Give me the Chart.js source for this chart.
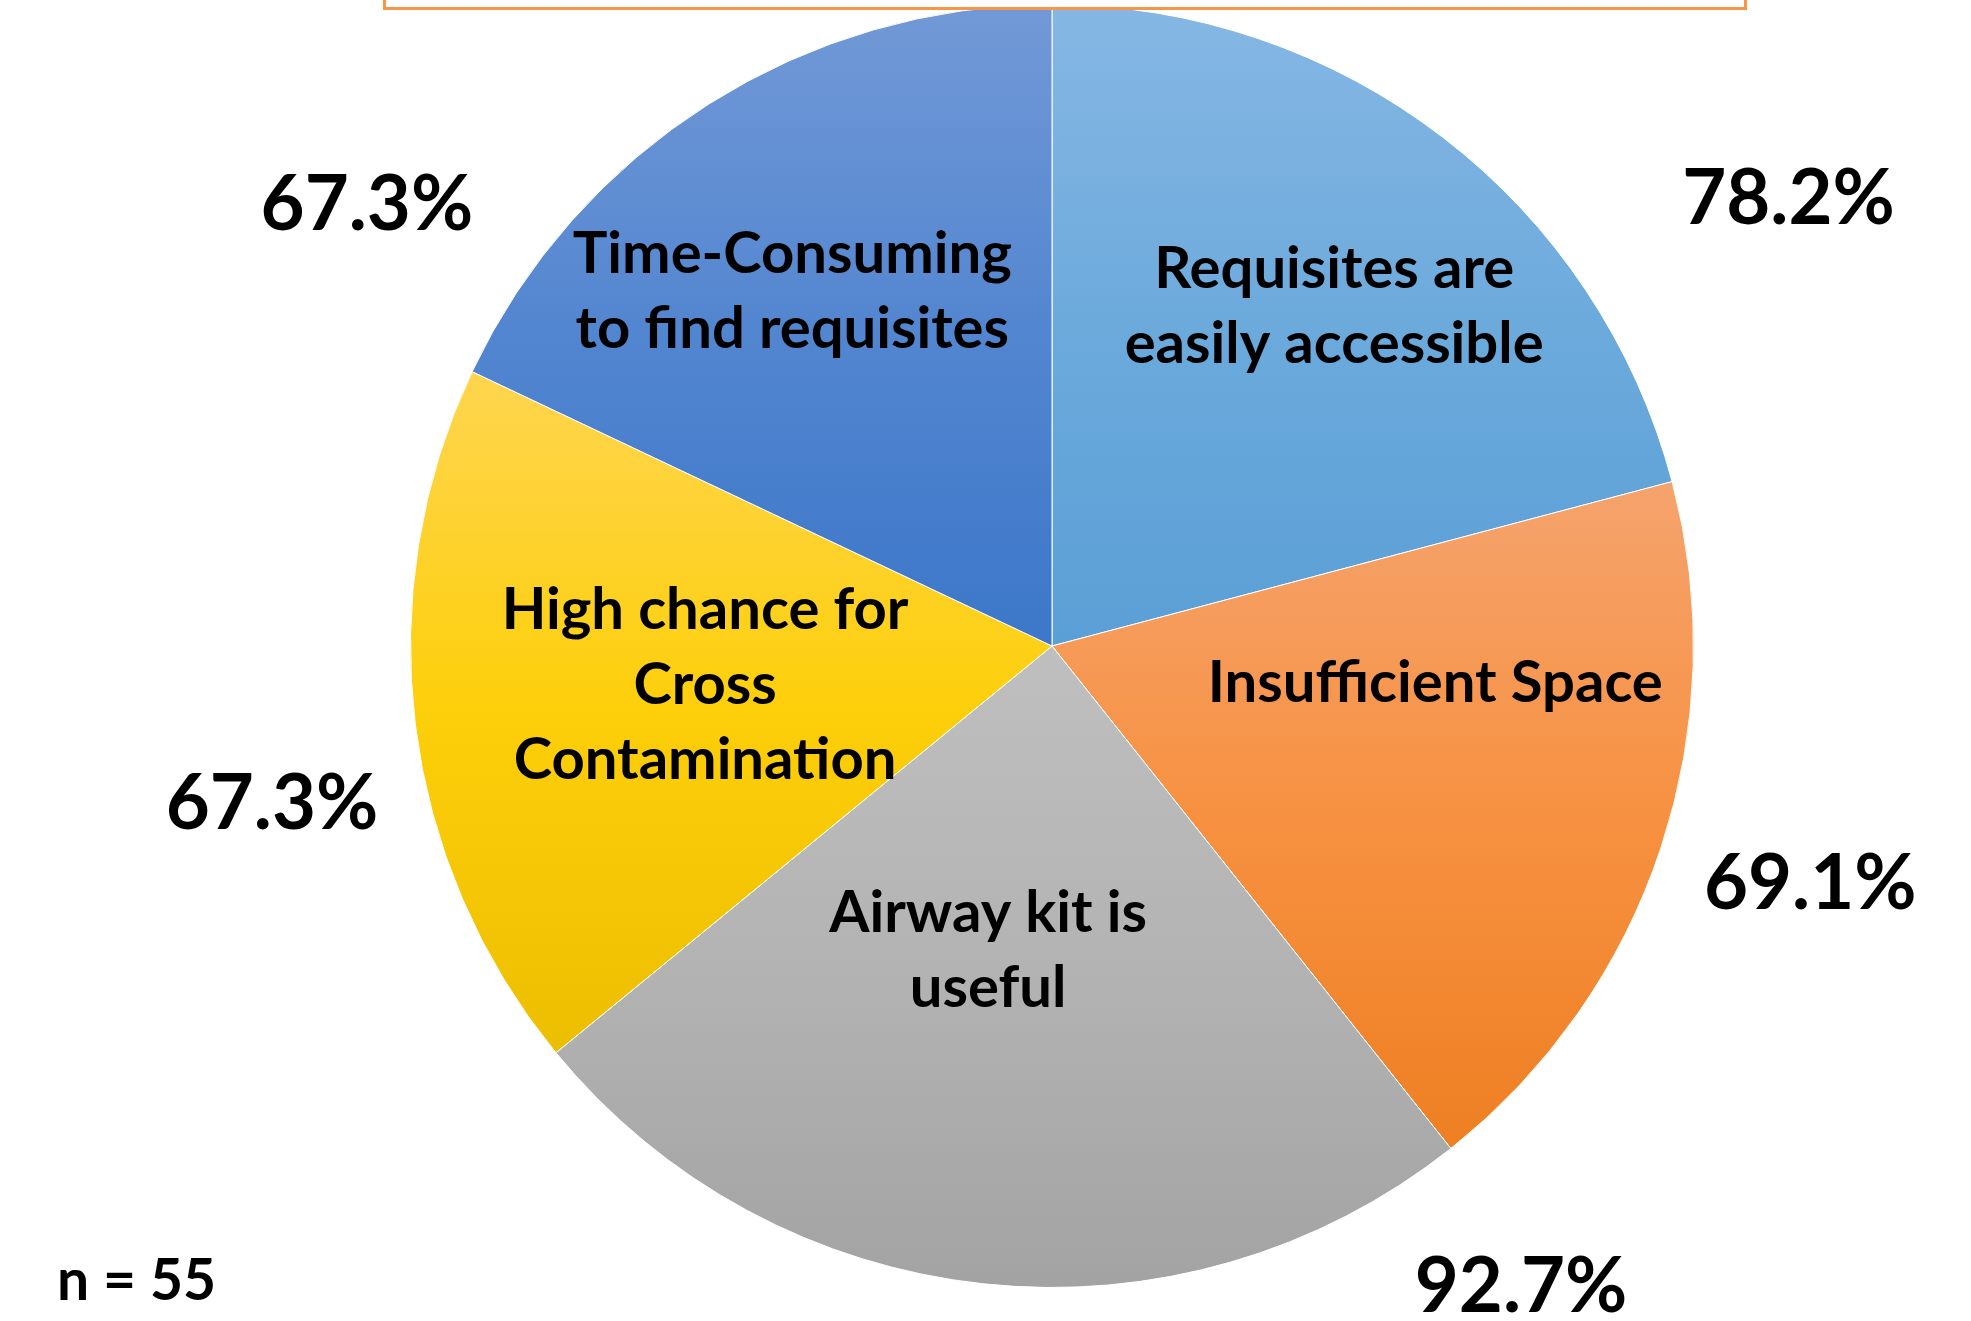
<!DOCTYPE html>
<html>
<head>
<meta charset="utf-8">
<title>Airway kit feedback</title>
<script src="https://cdn.jsdelivr.net/npm/chart.js@4.4.1/dist/chart.umd.min.js"></script>
<style>
  html, body { margin: 0; padding: 0; background: #fff; overflow: hidden; }
  #wrap { position: relative; width: 1971px; height: 1321px; }
  #chart { position: absolute; left: 0; top: 0; }
  /* bottom edge of the title box that sits above the pie */
  #titleBox { position: absolute; left: 383px; top: -60px; width: 1358px; height: 64px;
              border: 3px solid #F79646; background: #fff; }
</style>
</head>
<body>
<div id="wrap">
  <canvas id="chart" width="1971" height="1321"></canvas>
  <div id="titleBox"></div>
</div>
<script>
// data
const categories = [
    'Requisites are easily accessible',
    'Insufficient Space',
    'Airway kit is useful',
    'High chance for Cross Contamination',
    'Time-Consuming to find requisites'
];
const labelLines = [
    ['Requisites are', 'easily accessible'],
    ['Insufficient Space'],
    ['Airway kit is', 'useful'],
    ['High chance for', 'Cross', 'Contamination'],
    ['Time-Consuming', 'to find requisites']
];
const percentages = [78.2, 69.1, 92.7, 67.3, 67.3];
const sampleSize = 55;

// styles
const topColors = ['#86B7E4', '#F5A36D', '#BFBFBF', '#FFD54F', '#7299D7'];
const midColors = ['#6CAADC', '#F79141', '#B3B3B3', '#FDCF0A', '#5386D0'];
const bottomColors = ['#5A9FD6', '#EE7F22', '#A3A3A3', '#ECBE00', '#3C77C9'];

// label placement: angle (deg, clockwise from 12 o'clock) and distance as share of the radius
const nameAngle = [39.6, 95.2, 191.9, 263.8, 323.9];
const nameRadius = [0.69, 0.60, 0.483, 0.544, 0.687];
const pctAngle = [58.6, 107.3, 143.7, 258.7, 302.9];
const pctRadius = [1.345, 1.238, 1.235, 1.24, 1.272];

const FONT = 'Lato, "Open Sans", sans-serif';

// vertical gradient over the bounding box of each slice (like the Office fill)
function sliceGradient(context) {
    const chart = context.chart;
    const area = chart.chartArea;
    const i = context.dataIndex;
    if (!area) return bottomColors[i];
    const cx = (area.left + area.right) / 2;
    const cy = (area.top + area.bottom) / 2;
    const r = Math.min(area.right - area.left, area.bottom - area.top) / 2;
    const total = percentages.reduce((a, b) => a + b, 0);
    let a0 = 0;
    for (let k = 0; k < i; k++) a0 += percentages[k] / total * 360;
    const a1 = a0 + percentages[i] / total * 360;
    const rad = Math.PI / 180;
    const ys = [cy, cy - r * Math.cos(a0 * rad), cy - r * Math.cos(a1 * rad)];
    if (a0 < 1e-6 || a1 > 360 - 1e-6) ys.push(cy - r);
    if (a0 < 180 && a1 > 180) ys.push(cy + r);
    const g = chart.ctx.createLinearGradient(0, Math.min(...ys), 0, Math.max(...ys));
    g.addColorStop(0, topColors[i]);
    g.addColorStop(0.5, midColors[i]);
    g.addColorStop(1, bottomColors[i]);
    return g;
}

function polar(arc, angleDeg, share) {
    const a = angleDeg * Math.PI / 180;
    const d = arc.outerRadius * share;
    return { x: arc.x + d * Math.sin(a), y: arc.y - d * Math.cos(a) };
}

function drawBlock(ctx, lines, pos, size, lineH) {
    ctx.font = 'bold ' + size + 'px ' + FONT;
    const capH = size * 0.7165;
    lines.forEach((line, k) => {
        const y = pos.y + (k - (lines.length - 1) / 2) * lineH + capH / 2;
        ctx.fillText(line, pos.x, y);
    });
}

const labelPlugin = {
    id: 'sliceLabels',
    afterDatasetsDraw(chart) {
        const ctx = chart.ctx;
        const arcs = chart.getDatasetMeta(0).data;
        ctx.save();
        ctx.fillStyle = '#000';
        ctx.textAlign = 'center';
        ctx.textBaseline = 'alphabetic';
        arcs.forEach((arc, i) => {
            drawBlock(ctx, labelLines[i], polar(arc, nameAngle[i], nameRadius[i]), 58, 75);
            drawBlock(ctx, [percentages[i].toFixed(1) + '%'], polar(arc, pctAngle[i], pctRadius[i]), 76, 0);
        });
        ctx.textAlign = 'left';
        ctx.font = 'bold 57px ' + FONT;
        ctx.fillText('n = ' + sampleSize, 57, 1300);
        ctx.restore();
    }
};

function makeChart() {
    new Chart(document.getElementById('chart'), {
        type: 'pie',
        data: {
            labels: categories,
            datasets: [{
                data: percentages,
                backgroundColor: sliceGradient,
                borderColor: '#ffffff',
                borderWidth: 1
            }]
        },
        options: {
            responsive: false,
            animation: false,
            layout: { padding: { left: 410, right: 277, top: 4, bottom: 33 } },
            plugins: {
                legend: { display: false },
                tooltip: { enabled: false }
            }
        },
        plugins: [labelPlugin]
    });
}

if (document.fonts && document.fonts.load) {
    Promise.all([
        document.fonts.load('bold 58px Lato'),
        document.fonts.load('bold 76px Lato')
    ]).then(makeChart, makeChart);
} else {
    makeChart();
}
</script>
</body>
</html>
